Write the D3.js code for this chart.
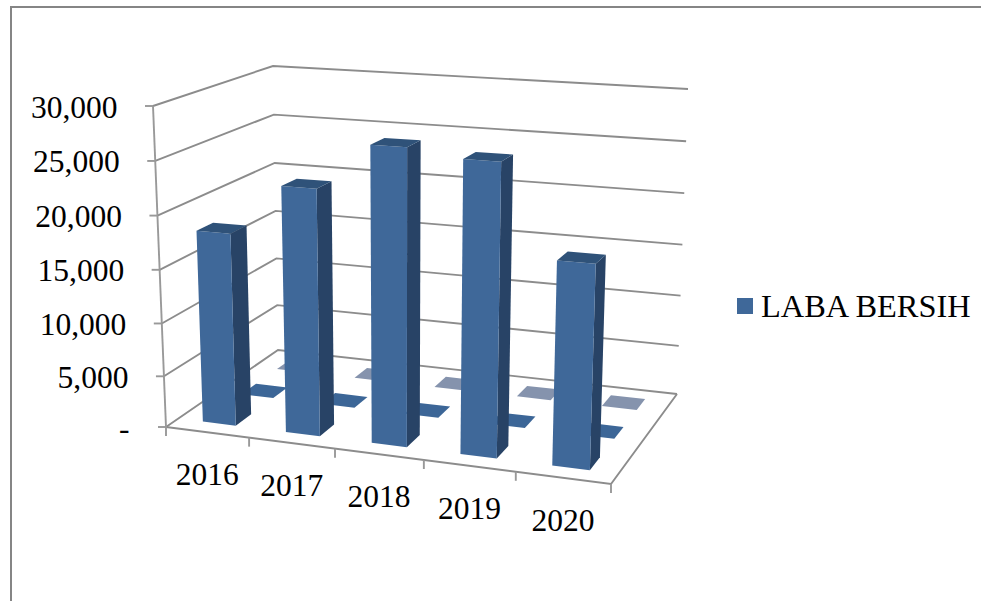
<!DOCTYPE html>
<html>
<head>
<meta charset="utf-8">
<script src="https://cdn.jsdelivr.net/npm/d3@7"></script>
<style>
  html, body { margin: 0; padding: 0; background: #fff; }
  svg { display: block; }
  text { font-family: "Liberation Serif", serif; fill: #000; font-size: 31.5px; }
</style>
</head>
<body>
<svg id="chart" width="981" height="601"></svg>
<script>
// Annual figures, one row of bars per series, front row first.
const years = ["2016", "2017", "2018", "2019", "2020"];
const labaBersih = [18250, 23000, 27300, 26600, 18400];
const middleRow = [0, 0, 0, 0, 0];
const backRow = [0, 0, 0, 0, 0];
const axisTicks = [0, 5000, 10000, 15000, 20000, 25000, 30000];
const legendLabel = "LABA BERSIH";

const rows = [
  { key: "back", values: backRow, front: "#8593ad", side: "#6d7c98", top: "#8593ad" },
  { key: "middle", values: middleRow, front: "#3c6697", side: "#284366", top: "#3c6697" },
  { key: "front", values: labaBersih, front: "#3f6899", side: "#284366", top: "#2f5279" }
];

// Perspective map from the unit square onto a quadrilateral.
function quadMap(p00, p10, p11, p01) {
  const dx1 = p10[0] - p11[0], dx2 = p01[0] - p11[0], sx = p00[0] - p10[0] + p11[0] - p01[0];
  const dy1 = p10[1] - p11[1], dy2 = p01[1] - p11[1], sy = p00[1] - p10[1] + p11[1] - p01[1];
  const det = dx1 * dy2 - dx2 * dy1;
  const g = (sx * dy2 - dx2 * sy) / det, h = (dx1 * sy - sx * dy1) / det;
  const a = p10[0] - p00[0] + g * p10[0], b = p01[0] - p00[0] + h * p01[0];
  const d = p10[1] - p00[1] + g * p10[1], e = p01[1] - p00[1] + h * p01[1];
  return (u, v) => {
    const w = g * u + h * v + 1;
    return [(a * u + b * v + p00[0]) / w, (d * u + e * v + p00[1]) / w];
  };
}

// The chart box: floor plane and the plane at the top of the value axis.
const floorPlane = quadMap([166, 427], [611, 484], [677, 394], [278, 350]);
const topPlane = quadMap([153, 106], [622, 136], [688, 89], [273, 66]);

const uScale = d3.scaleBand().domain(years).range([0, 1]).paddingInner(0.6).paddingOuter(0.3);
const vScale = d3.scaleBand().domain(["front", "middle", "back"]).range([0, 1]).paddingInner(0.6).paddingOuter(0.3);
const hScale = d3.scalePow().exponent(1.03).domain([0, 30000]).range([0, 1]);

function project(u, v, value) {
  const a = floorPlane(u, v), b = topPlane(u, v), t = hScale(value);
  return [a[0] + (b[0] - a[0]) * t, a[1] + (b[1] - a[1]) * t];
}

const svg = d3.select("#chart");
const line = d3.line();
const gridColor = "#8c8c8c";
const gridWidth = 1.9;

// Outer frame: top and left edges run off the page
svg.append("path")
  .attr("d", "M11,601V7H981")
  .attr("fill", "none").attr("stroke", "#858585").attr("stroke-width", 2);

// Gridlines across the left and back walls
axisTicks.forEach(t => {
  svg.append("path")
    .attr("d", line([project(0, 0, t), project(0, 1, t), project(1, 1, t)]))
    .attr("fill", "none").attr("stroke", gridColor).attr("stroke-width", gridWidth);
});

// Floor outline and both axes
svg.append("path")
  .attr("d", line([project(0, 0, 0), project(1, 0, 0), project(1, 1, 0)]))
  .attr("fill", "none").attr("stroke", gridColor).attr("stroke-width", gridWidth);
svg.append("path")
  .attr("d", line([project(0, 0, 0), project(0, 0, 30000)]))
  .attr("fill", "none").attr("stroke", "#999999").attr("stroke-width", gridWidth);

// Value axis ticks and labels
const fmt = d3.format(",");
axisTicks.forEach(t => {
  const p = project(0, 0, t);
  svg.append("line").attr("x1", p[0] - 8).attr("y1", p[1]).attr("x2", p[0]).attr("y2", p[1])
    .attr("stroke", "#999999").attr("stroke-width", gridWidth);
  svg.append("text")
    .attr("x", t === 0 ? p[0] - 36.5 : p[0] - 35.5)
    .attr("y", p[1] + 11.5)
    .attr("text-anchor", "end")
    .text(t === 0 ? "-" : fmt(t));
});

// Category ticks along the front edge, labels centred between them
d3.range(years.length + 1).forEach(i => {
  const p = project(i / years.length, 0, 0);
  svg.append("line").attr("x1", p[0]).attr("y1", p[1]).attr("x2", p[0]).attr("y2", p[1] + 9)
    .attr("stroke", "#999999").attr("stroke-width", gridWidth);
});
years.forEach((y, i) => {
  const p = project((i + 0.5) / years.length, 0, 0);
  svg.append("text")
    .attr("x", p[0]).attr("y", p[1] + 53)
    .attr("text-anchor", "middle")
    .text(y);
});

// Bars, painted from the back row forward
rows.forEach(row => {
  const g = svg.append("g").attr("class", "row-" + row.key);
  years.forEach((year, i) => {
    const u0 = uScale(year), u1 = u0 + uScale.bandwidth();
    const v0 = vScale(row.key), v1 = v0 + vScale.bandwidth();
    const val = row.values[i];
    g.append("path").attr("fill", row.side)
      .attr("d", line([project(u1, v0, 0), project(u1, v1, 0), project(u1, v1, val), project(u1, v0, val)]) + "Z");
    g.append("path").attr("fill", row.front)
      .attr("d", line([project(u0, v0, 0), project(u1, v0, 0), project(u1, v0, val), project(u0, v0, val)]) + "Z");
    g.append("path").attr("fill", row.top)
      .attr("d", line([project(u0, v0, val), project(u1, v0, val), project(u1, v1, val), project(u0, v1, val)]) + "Z");
  });
});

// Legend
svg.append("rect").attr("x", 737).attr("y", 298).attr("width", 16).attr("height", 16).attr("fill", "#3f6899");
svg.append("text").attr("x", 761).attr("y", 317).style("font-size", "32.4px").text(legendLabel);
</script>
</body>
</html>
